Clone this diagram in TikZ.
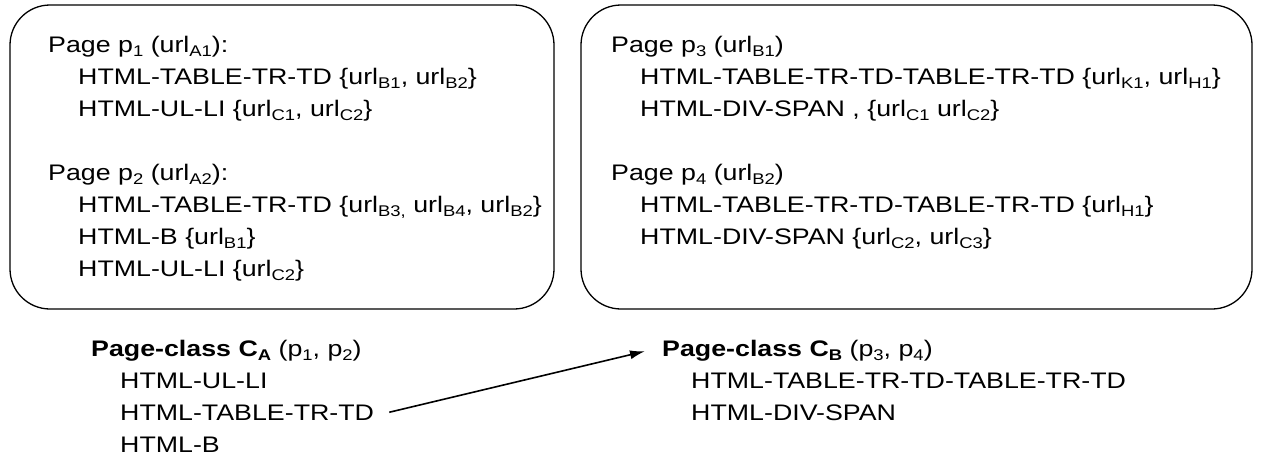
\documentclass[tikz,border=0pt]{standalone}
\usepackage{fontspec}
\setmainfont[FakeStretch=1.19]{Liberation Sans}
\usetikzlibrary{arrows.meta}
\newcommand\fs{\fontsize{22.5}{32}\selectfont}
\newcommand\sbs[1]{\raisebox{-4.2pt}{\fontsize{15.5}{15.5}\selectfont #1}}
\tikzset{
  ln/.style={anchor=base west, inner sep=0pt, font=\fs},
  pagebox/.style={draw=black, line width=1.3pt, rounded corners=40pt, inner sep=0pt},
  arr/.style={-{Latex[length=15pt,width=9pt]}, line width=1.6pt}
}
\begin{document}
\begin{tikzpicture}[x=1pt,y=-1pt]
\useasboundingbox (0,0) rectangle (1261,456);
% boxes
\node[pagebox, minimum width=544pt, minimum height=304pt] (boxA) at (282,157) {};
\node[pagebox, minimum width=671pt, minimum height=304pt] (boxB) at (916.5,157) {};
% box A text
\node[ln] (p1) at (48,52) {Page p\sbs{1} (url\sbs{A1}):};
\node[ln] (p1a) at (78,84) {HTML-TABLE-TR-TD \{url\sbs{B1}, url\sbs{B2}\}};
\node[ln] (p1b) at (78,116) {HTML-UL-LI \{url\sbs{C1}, url\sbs{C2}\}};
\node[ln] (p2) at (48,180) {Page p\sbs{2} (url\sbs{A2}):};
\node[ln] (p2a) at (78,212) {HTML-TABLE-TR-TD \{url\sbs{B3,} url\sbs{B4}, url\sbs{B2}\}};
\node[ln] (p2b) at (78,244) {HTML-B \{url\sbs{B1}\}};
\node[ln] (p2c) at (78,276) {HTML-UL-LI \{url\sbs{C2}\}};
% box B text
\node[ln] (p3) at (611,52) {Page p\sbs{3} (url\sbs{B1})};
\node[ln] (p3a) at (640,84) {HTML-TABLE-TR-TD-TABLE-TR-TD \{url\sbs{K1}, url\sbs{H1}\}};
\node[ln] (p3b) at (640,116) {HTML-DIV-SPAN , \{url\sbs{C1} url\sbs{C2}\}};
\node[ln] (p4) at (611,180) {Page p\sbs{4} (url\sbs{B2})};
\node[ln] (p4a) at (640,212) {HTML-TABLE-TR-TD-TABLE-TR-TD \{url\sbs{H1}\}};
\node[ln] (p4b) at (640,244) {HTML-DIV-SPAN \{url\sbs{C2}, url\sbs{C3}\}};
% page classes
\node[ln] (cA) at (91,356) {\textbf{Page-class C\sbs{A}} (p\sbs{1}, p\sbs{2})};
\node[ln] (cA1) at (120,388) {HTML-UL-LI};
\node[ln] (cA2) at (120,420) {HTML-TABLE-TR-TD};
\node[ln] (cA3) at (120,452) {HTML-B};
\node[ln] (cB) at (662,356) {\textbf{Page-class C\sbs{B}} (p\sbs{3}, p\sbs{4})};
\node[ln] (cB1) at (691,388) {HTML-TABLE-TR-TD-TABLE-TR-TD};
\node[ln] (cB2) at (691,420) {HTML-DIV-SPAN};
% arrow
\draw[arr] ([xshift=15pt]cA2.east) -- ([xshift=-17pt,yshift=-1pt]cB.west);
\end{tikzpicture}
\end{document}
